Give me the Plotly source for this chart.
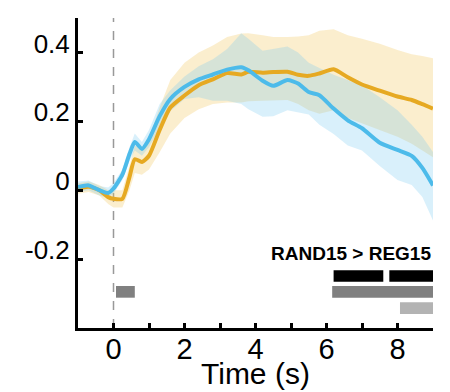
import plotly.graph_objects as go

# ---- data ----
t = [-1, -0.7, -0.4, -0.15, 0, 0.25, 0.45, 0.6, 0.8, 1.0, 1.3, 1.6, 2.0, 2.4, 2.8, 3.2,
     3.6, 3.8, 4.2, 4.5, 4.9, 5.2, 5.5, 5.8, 6.2, 6.6, 7.0, 7.5, 8.0, 8.4, 8.7, 9.0]

blue_mean = [0.009, 0.014, 0.0, -0.008, 0.005, 0.045, 0.105, 0.14, 0.12, 0.148, 0.215, 0.265,
             0.30, 0.322, 0.336, 0.35, 0.357, 0.348, 0.318, 0.303, 0.32, 0.31, 0.285, 0.276,
             0.237, 0.203, 0.18, 0.138, 0.117, 0.10, 0.065, 0.014]
blue_upper = [0.025, 0.028, 0.012, 0.008, 0.02, 0.06, 0.125, 0.165, 0.14, 0.175, 0.25, 0.29,
              0.33, 0.36, 0.38, 0.41, 0.456, 0.44, 0.405, 0.41, 0.417, 0.40, 0.37, 0.355,
              0.335, 0.32, 0.305, 0.27, 0.232, 0.19, 0.155, 0.111]
blue_lower = [-0.005, 0.0, -0.015, -0.022, -0.01, 0.03, 0.085, 0.115, 0.10, 0.125, 0.18, 0.23,
              0.265, 0.27, 0.26, 0.26, 0.25, 0.235, 0.213, 0.215, 0.232, 0.225, 0.22, 0.19,
              0.163, 0.13, 0.115, 0.07, 0.03, 0.015, -0.02, -0.088]

orange_mean = [0.005, 0.01, 0.0, -0.02, -0.025, -0.025, 0.038, 0.09, 0.082, 0.10, 0.175, 0.24,
               0.275, 0.305, 0.322, 0.34, 0.336, 0.344, 0.341, 0.343, 0.344, 0.335, 0.332, 0.339,
               0.351, 0.328, 0.307, 0.289, 0.272, 0.262, 0.25, 0.237]
orange_upper = [0.02, 0.025, 0.015, 0.0, 0.0, 0.0, 0.07, 0.13, 0.12, 0.15, 0.24, 0.32,
                0.37, 0.40, 0.42, 0.445, 0.455, 0.456, 0.45, 0.445, 0.445, 0.446, 0.45, 0.463,
                0.467, 0.45, 0.44, 0.425, 0.407, 0.395, 0.39, 0.383]
orange_lower = [-0.01, -0.005, -0.015, -0.04, -0.05, -0.05, 0.0, 0.05, 0.045, 0.06, 0.11, 0.165,
                0.21, 0.235, 0.25, 0.255, 0.255, 0.258, 0.26, 0.262, 0.262, 0.25, 0.232, 0.222,
                0.232, 0.21, 0.195, 0.175, 0.155, 0.135, 0.115, 0.096]

# significance bars: (start, end, row level)
sig_start = [0.07, 6.2, 7.77, 6.16, 8.07]
sig_end = [0.6, 7.6, 9.0, 9.0, 9.0]
sig_level = [-0.295, -0.249, -0.249, -0.295, -0.342]
sig_color = ["#808080", "#000000", "#000000", "#808080", "#b3b3b3"]

x_ticks = [0, 1, 2, 3, 4, 5, 6, 7, 8, 9]
x_ticktext = ["0", "", "2", "", "4", "", "6", "", "8", ""]
y_ticks = [-0.2, 0, 0.2, 0.4]
y_ticktext = ["-0.2", "0", "0.2", "0.4"]

ORANGE = "#E6A922"
BLUE = "#4DBBEA"

fig = go.Figure()


def band(upper, lower, color):
    fig.add_trace(go.Scatter(x=t + t[::-1], y=upper + lower[::-1], fill="toself",
                             fillcolor=color, line=dict(width=0), mode="lines",
                             hoverinfo="skip", showlegend=False))


band(orange_upper, orange_lower, "rgba(240,195,80,0.28)")
band(blue_upper, blue_lower, "rgba(120,200,240,0.28)")

fig.add_trace(go.Scatter(x=t, y=orange_mean, mode="lines",
                         line=dict(color=ORANGE, width=4, shape="spline", smoothing=0.6),
                         showlegend=False))
fig.add_trace(go.Scatter(x=t, y=blue_mean, mode="lines",
                         line=dict(color=BLUE, width=4, shape="spline", smoothing=0.6),
                         showlegend=False))

shapes = [dict(type="line", xref="x", yref="paper", x0=0, x1=0, y0=0, y1=1,
               line=dict(color="#999999", width=1.5, dash="dash"), layer="below")]
for s, e, lv, c in zip(sig_start, sig_end, sig_level, sig_color):
    shapes.append(dict(type="rect", xref="x", yref="y", x0=s, x1=e, y0=lv - 0.017, y1=lv + 0.017,
                       fillcolor=c, line=dict(width=0)))

fig.update_layout(
    width=450, height=392,
    margin=dict(l=78, r=17, t=18, b=64),
    plot_bgcolor="white", paper_bgcolor="white",
    font=dict(family="Liberation Sans, Arial, sans-serif", color="black"),
    shapes=shapes,
    annotations=[dict(x=9, y=-0.185, xref="x", yref="y", text="<b>RAND15 &gt; REG15</b>",
                      showarrow=False, xanchor="right", yanchor="middle",
                      font=dict(size=19, color="black")),
                 dict(x=0.5, y=-0.087, xref="paper", yref="paper", text="Time (s)",
                      showarrow=False, xanchor="center", yanchor="top",
                      font=dict(size=30, color="black"))],
    xaxis=dict(range=[-1, 9], tickvals=x_ticks, ticktext=x_ticktext, ticks="inside",
               ticklen=5, tickwidth=3, tickcolor="black", showline=True, linewidth=3,
               linecolor="black", showgrid=False, zeroline=False, tickfont=dict(size=29),
               ticklabelstandoff=-7),
    yaxis=dict(range=[-0.4, 0.5], tickvals=y_ticks, ticktext=y_ticktext, ticks="inside",
               ticklen=5, tickwidth=3, tickcolor="black", showline=True, linewidth=3,
               linecolor="black", showgrid=False, zeroline=False, tickfont=dict(size=26),
               ticklabelshift=-9),
)

fig.write_html("out.html")
